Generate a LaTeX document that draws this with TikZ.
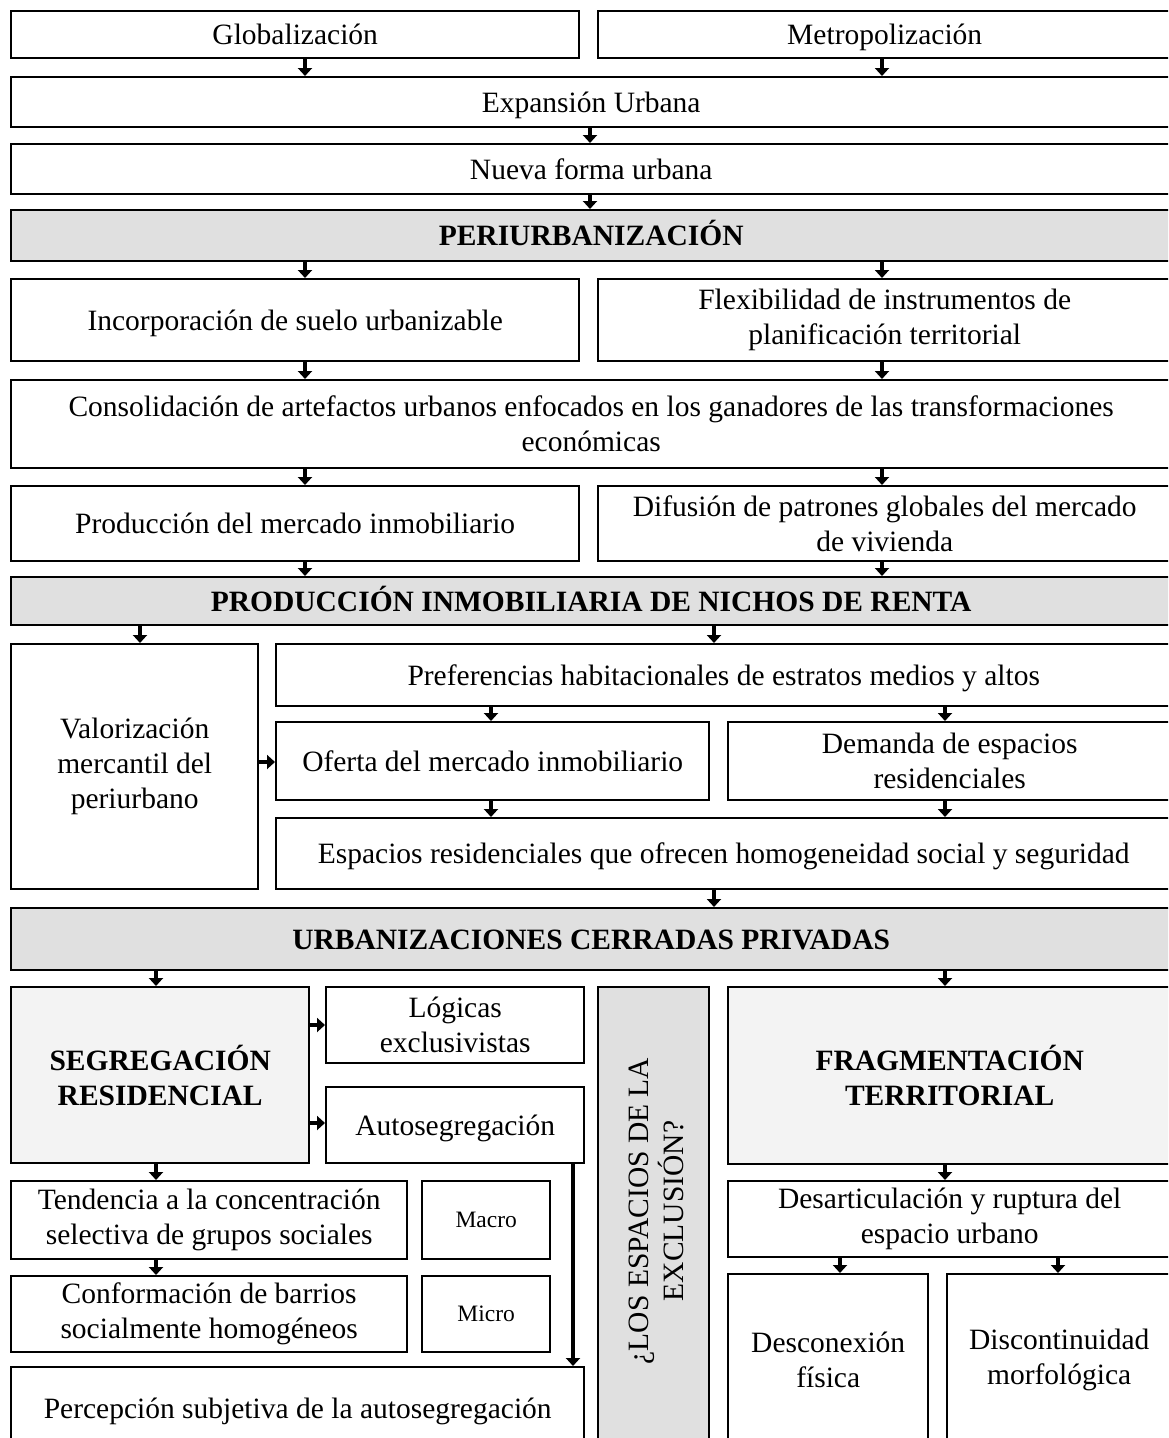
\documentclass[tikz,border=0pt]{standalone}
\usepackage{fontspec}
\setmainfont{Liberation Serif}
\usetikzlibrary{arrows.meta}
\definecolor{bargray}{HTML}{E0E0E0}
\definecolor{lightgray}{HTML}{F3F3F3}
\tikzset{
  box/.style={draw=black, line width=2.4pt, fill=white, inner sep=0pt, align=center,
    font=\fontsize{29.5}{35}\selectfont},
  oneline/.style={text height=24pt, text depth=4pt},
  bar/.style={box, oneline, fill=bargray, font=\fontsize{29.5}{35}\selectfont\bfseries},
  headbox/.style={box, fill=lightgray, font=\fontsize{29.5}{35}\selectfont\bfseries},
  smallbox/.style={box, font=\fontsize{23.5}{28}\selectfont, text height=19pt, text depth=4pt},
  arr/.style={line width=4pt, -{Triangle[length=8pt,width=14pt]}},
}
\newcommand\mybox[7][]{\node[box,#1,minimum width={#5pt-#3pt},minimum height={#6pt-#4pt},anchor=north west] (#2) at (#3,#4) {#7};}
\begin{document}
\begin{tikzpicture}[x=1pt,y=-1pt]
\useasboundingbox (0,0) rectangle (1168,1438);
\clip (0,0) rectangle (1168,1438);
\fill[white] (0,0) rectangle (1168,1438);

\mybox[oneline]{glob}{10}{10}{578}{57}{Globalización}
\mybox[oneline]{metro}{597}{10}{1170}{57}{Metropolización}
\mybox[oneline]{expan}{10}{76}{1170}{126}{Expansión Urbana}
\mybox[oneline]{nueva}{10}{143}{1170}{193}{Nueva forma urbana}
\mybox[bar]{peri}{10}{209}{1170}{260}{PERIURBANIZACIÓN}
\mybox[oneline]{incorp}{10}{278}{578}{360}{Incorporación de suelo urbanizable}
\mybox{flex}{597}{278}{1170}{360}{Flexibilidad de instrumentos de\\planificación territorial}
\mybox{consol}{10}{379}{1170}{467}{Consolidación de artefactos urbanos enfocados en los ganadores de las transformaciones\\económicas}
\mybox[oneline]{prodm}{10}{485}{578}{560}{Producción del mercado inmobiliario}
\mybox{difus}{597}{485}{1170}{560}{Difusión de patrones globales del mercado\\de vivienda}
\mybox[bar]{prodi}{10}{576}{1170}{624}{PRODUCCIÓN INMOBILIARIA DE NICHOS DE RENTA}
\mybox{valor}{10}{643}{257}{888}{Valorización\\mercantil del\\periurbano}
\mybox[oneline]{pref}{275}{643}{1170}{705}{Preferencias habitacionales de estratos medios y altos}
\mybox[oneline]{oferta}{275}{721}{708}{799}{Oferta del mercado inmobiliario}
\mybox{demanda}{727}{721}{1170}{799}{Demanda de espacios\\residenciales}
\mybox[oneline]{espres}{275}{817}{1170}{888}{Espacios residenciales que ofrecen homogeneidad social y seguridad}
\mybox[bar]{urb}{10}{907}{1170}{969}{URBANIZACIONES CERRADAS PRIVADAS}
\mybox[headbox]{segr}{10}{986}{308}{1162}{SEGREGACIÓN\\RESIDENCIAL}
\mybox{logic}{325}{986}{583}{1062}{Lógicas\\exclusivistas}
\mybox[oneline]{autos}{325}{1086}{583}{1162}{Autosegregación}
\mybox[fill=bargray]{espex}{597}{986}{708}{1450}{}
\node[font=\fontsize{29.5}{35}\selectfont, align=center, rotate=90, inner sep=0pt] (espextxt) at (656,1211) {¿LOS ESPACIOS DE LA\\EXCLUSIÓN?};
\mybox[headbox]{frag}{727}{986}{1170}{1163}{FRAGMENTACIÓN\\TERRITORIAL}
\mybox{tend}{10}{1180}{406}{1258}{Tendencia a la concentración\\selectiva de grupos sociales}
\mybox[smallbox]{macro}{421}{1180}{549}{1258}{Macro}
\mybox{conf}{10}{1275}{406}{1351}{Conformación de barrios\\socialmente homogéneos}
\mybox[smallbox]{micro}{421}{1275}{549}{1351}{Micro}
\mybox[oneline]{percep}{10}{1366}{583}{1448}{Percepción subjetiva de la autosegregación}
\mybox{desart}{727}{1180}{1170}{1256}{Desarticulación y ruptura del\\espacio urbano}
\mybox{descon}{727}{1273}{927}{1445}{Desconexión\\física}
\mybox{discon}{946}{1273}{1170}{1445}{Discontinuidad\\morfológica}

% connectors
\draw[arr] (305,0 |- glob.south) -- (305,0 |- expan.north);
\draw[arr] (882,0 |- metro.south) -- (882,0 |- expan.north);
\draw[arr] (590,0 |- expan.south) -- (590,0 |- nueva.north);
\draw[arr] (590,0 |- nueva.south) -- (590,0 |- peri.north);
\draw[arr] (305,0 |- peri.south) -- (305,0 |- incorp.north);
\draw[arr] (882,0 |- peri.south) -- (882,0 |- flex.north);
\draw[arr] (305,0 |- incorp.south) -- (305,0 |- consol.north);
\draw[arr] (882,0 |- flex.south) -- (882,0 |- consol.north);
\draw[arr] (305,0 |- consol.south) -- (305,0 |- prodm.north);
\draw[arr] (882,0 |- consol.south) -- (882,0 |- difus.north);
\draw[arr] (305,0 |- prodm.south) -- (305,0 |- prodi.north);
\draw[arr] (882,0 |- difus.south) -- (882,0 |- prodi.north);
\draw[arr] (140,0 |- prodi.south) -- (140,0 |- valor.north);
\draw[arr] (714,0 |- prodi.south) -- (714,0 |- pref.north);
\draw[arr] (491,0 |- pref.south) -- (491,0 |- oferta.north);
\draw[arr] (945,0 |- pref.south) -- (945,0 |- demanda.north);
\draw[arr] (valor.east |- 0,762) -- (oferta.west |- 0,762);
\draw[arr] (491,0 |- oferta.south) -- (491,0 |- espres.north);
\draw[arr] (945,0 |- demanda.south) -- (945,0 |- espres.north);
\draw[arr] (714,0 |- espres.south) -- (714,0 |- urb.north);
\draw[arr] (156,0 |- urb.south) -- (156,0 |- segr.north);
\draw[arr] (945,0 |- urb.south) -- (945,0 |- frag.north);
\draw[arr] (segr.east |- 0,1025) -- (logic.west |- 0,1025);
\draw[arr] (segr.east |- 0,1123) -- (autos.west |- 0,1123);
\draw[arr] (156,0 |- segr.south) -- (156,0 |- tend.north);
\draw[arr] (156,0 |- tend.south) -- (156,0 |- conf.north);
\draw[arr] (573,0 |- autos.south) -- (573,0 |- percep.north);
\draw[arr] (945,0 |- frag.south) -- (945,0 |- desart.north);
\draw[arr] (840,0 |- desart.south) -- (840,0 |- descon.north);
\draw[arr] (1058,0 |- desart.south) -- (1058,0 |- discon.north);
\end{tikzpicture}
\end{document}
